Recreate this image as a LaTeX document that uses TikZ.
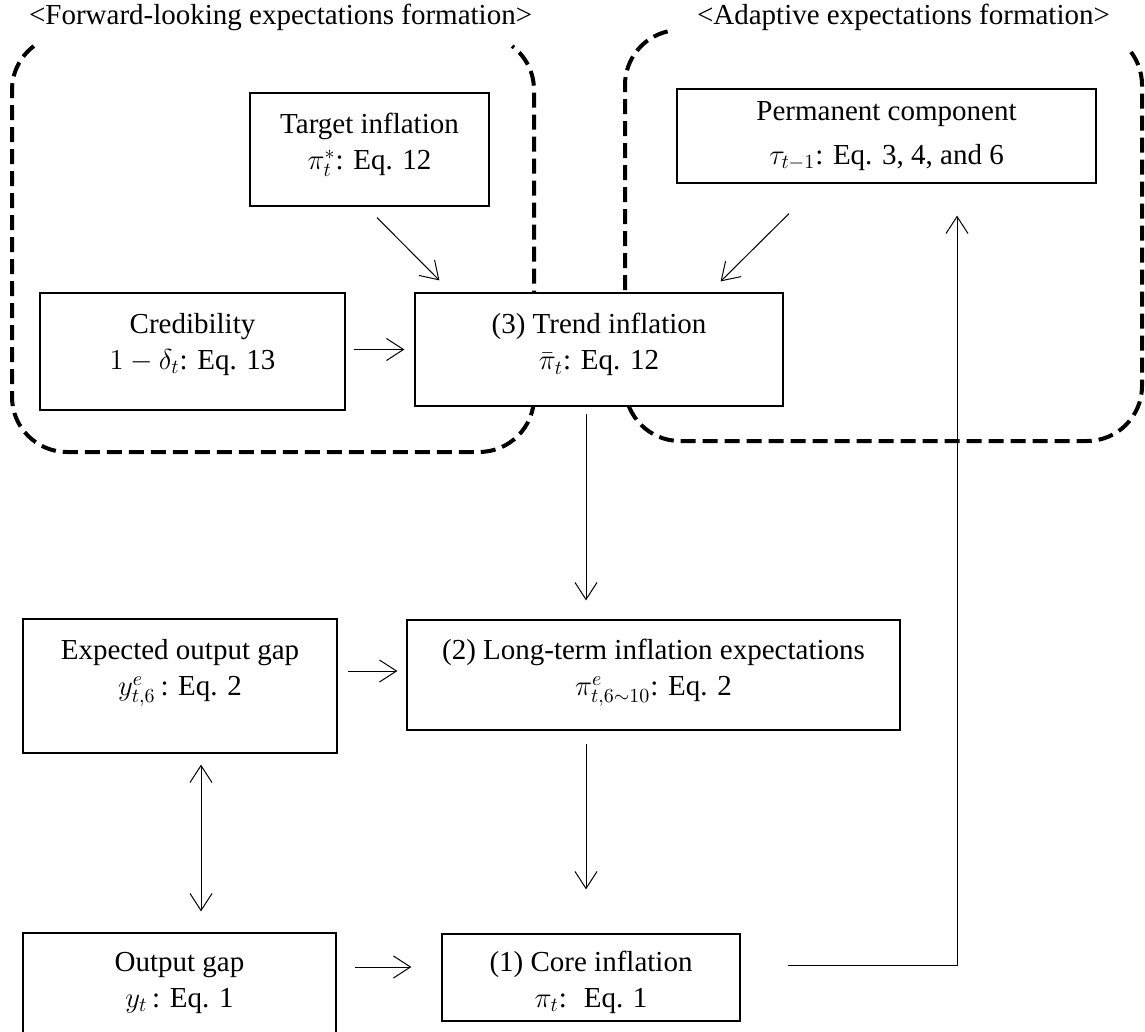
\documentclass[tikz,border=0pt]{standalone}
\usepackage{amsmath,amssymb}
\usepackage{fontspec}
\setmainfont{Liberation Serif}
\usetikzlibrary{arrows.meta,calc}
\newcommand{\pad}[1]{\rule[-#1]{0pt}{#1}}
\tikzset{
  box/.style={draw,fill=white,line width=0.6pt,align=center,inner sep=2pt},
  arr/.style={-{Straight Barb[length=8.5pt,width=11pt]},line width=0.5pt},
  region/.style={line width=2pt,dash pattern=on 7.5pt off 3.5pt}
}
\begin{document}
\begin{tikzpicture}[x=0.5pt,y=0.5pt,font=\fontsize{14.5}{18}\selectfont]
\useasboundingbox (0,0) rectangle (1145,-1032);

\draw[region] (67,-90) ++(127:27.5pt) arc[start angle=127,end angle=180,radius=27.5pt]
  -- (12,-397) arc[start angle=180,end angle=270,radius=27.5pt]
  -- (479,-452) arc[start angle=270,end angle=360,radius=27.5pt]
  -- (534,-90) arc[start angle=0,end angle=53,radius=27.5pt];
\draw[region] (680,-85) ++(103:27.5pt) arc[start angle=103,end angle=180,radius=27.5pt]
  -- (625,-386) arc[start angle=180,end angle=270,radius=27.5pt]
  -- (1087,-441) arc[start angle=270,end angle=360,radius=27.5pt]
  -- (1142,-85) arc[start angle=0,end angle=44,radius=27.5pt];

\node[anchor=base west] (fwdtitle) at (22,-25) {<Forward-looking expectations formation>};
\node[anchor=base west] (adatitle) at (690,-25) {<Adaptive expectations formation>};

\node[box,minimum width=119.5pt,minimum height=56.5pt] (target) at (369.5,-149.5) {Target inflation\\$\pi_t^{*}$: Eq. 12\pad{8pt}};
\node[box,minimum width=152.5pt,minimum height=58.5pt] (cred) at (192.5,-351.5) {Credibility\\$1-\delta_t$: Eq. 13\pad{10pt}};
\node[box,minimum width=184pt,minimum height=56.5pt] (trend) at (599,-349.5) {(3) Trend inflation\\$\bar{\pi}_t$: Eq. 12\pad{8pt}};
\node[box,minimum width=209.5pt,minimum height=47pt] (perm) at (886.5,-136) {Permanent component\\[4pt]$\tau_{t-1}$: Eq. 3, 4, and 6\pad{2pt}};
\node[box,minimum width=157pt,minimum height=67pt] (expgap) at (180,-686) {Expected output gap\\$y_{t,6}^{e}$\,: Eq. 2\pad{18.5pt}};
\node[box,minimum width=246.5pt,minimum height=55pt] (longexp) at (653.5,-675) {(2) Long-term inflation expectations\\$\pi_{t,6\sim10}^{e}$: Eq. 2\pad{7.5pt}};
\node[box,minimum width=156.5pt,minimum height=50.5pt] (outgap) at (179.5,-983.5) {Output gap\\$y_t$\,: Eq. 1\pad{4pt}};
\node[box,minimum width=149pt,minimum height=43.5pt] (core) at (591,-977.5) {\rule{0pt}{15pt}(1) Core inflation\\$\pi_t$:~ Eq. 1};

\draw[arr] ($(target.south)+(7.5,-11)$) -- ($(trend.north west)+(25,12)$);
\draw[arr] ($(perm.south)+(-97.5,-30)$) -- ($(trend.north east)+(-63,11)$);
\draw[arr] ($(cred.east)+(8,2)$) -- ($(trend.west)+(-10,0)$);
\draw[arr] ($(trend.south)+(-13,-7)$) -- ($(longexp.north)+(-67.5,19)$);
\draw[arr] ($(expgap.east)+(10,15)$) -- ($(longexp.west)+(-9,4)$);
\draw[arr] ($(longexp.south)+(-67.5,-13)$) -- ($(core.north)+(-5,44)$);
\draw[arr,{Straight Barb[length=8.5pt,width=11pt]}-{Straight Barb[length=8.5pt,width=11pt]}] ($(expgap.south)+(21,-11)$) -- ($(outgap.north)+(21.5,21)$);
\draw[arr] ($(outgap.east)+(18,16.5)$) -- ($(core.west)+(-30,10.5)$);
\draw[arr] ($(core.east)+(47,12.5)$) -| ($(perm.south)+(70.5,-32)$);
\end{tikzpicture}
\end{document}
